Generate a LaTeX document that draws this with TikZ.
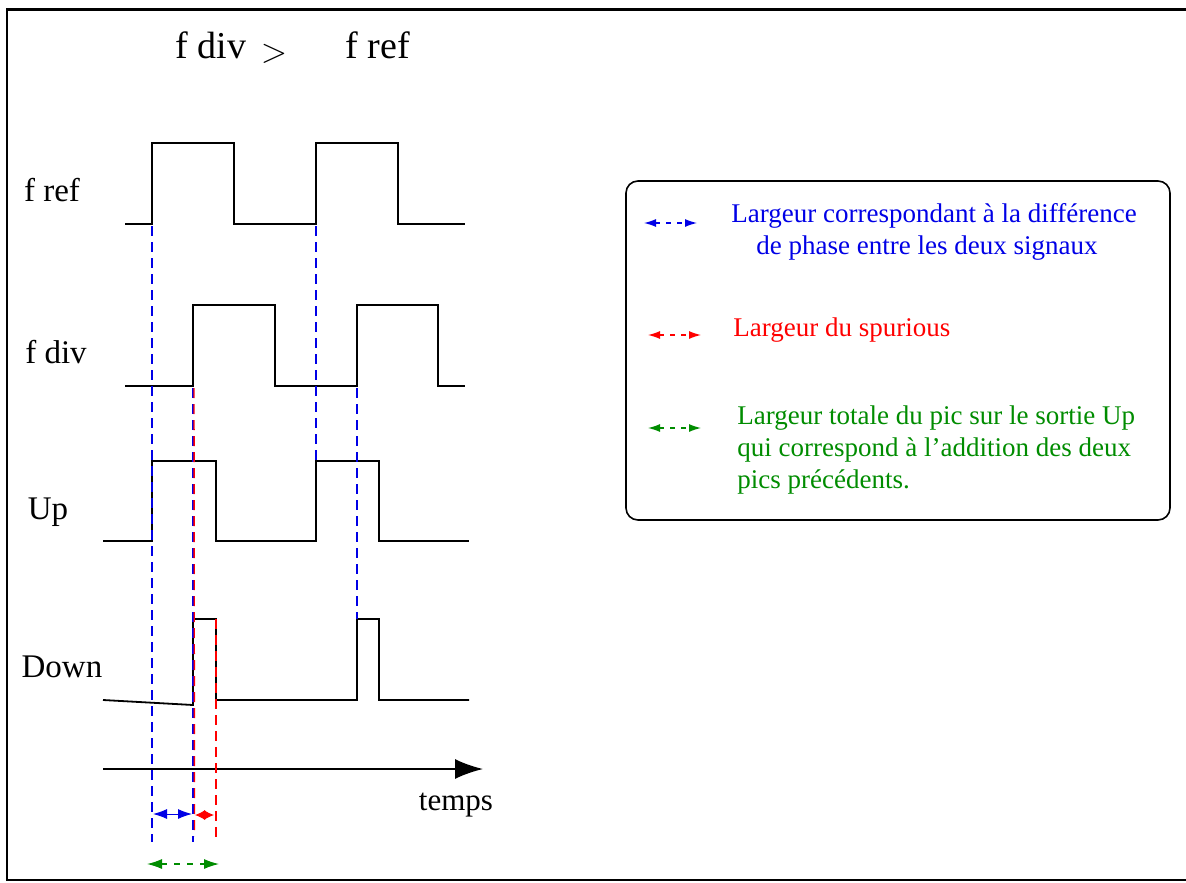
\documentclass[tikz,border=0pt]{standalone}
\usepackage{fontspec}
\setmainfont{Liberation Serif}
\usetikzlibrary{arrows.meta}
\definecolor{figblue}{RGB}{0,0,230}
\definecolor{figred}{RGB}{255,0,0}
\definecolor{figgreen}{RGB}{0,140,0}

\begin{document}
\begin{tikzpicture}[x=0.5pt,y=-0.5pt,
  sig/.style={line width=0.9pt, black},
  guide/.style={dash pattern=on 5pt off 3pt, line width=0.7pt},
  lab/.style={font=\fontsize{16.5}{19}\selectfont, inner sep=0pt},
  legtxt/.style={font=\fontsize{13.5}{16}\selectfont, inner sep=0pt, anchor=west},
  legarrow/.style={{Latex[length=6pt,width=4pt]}-{Latex[length=6pt,width=4pt]}, dash pattern=on 2.5pt off 3pt, line width=0.6pt}]
\useasboundingbox (0,0) rectangle (1186,882);
\draw[line width=1.4pt] (1200,9.5) -- (7,9.5) -- (7,880) -- (1200,880);

% titre
\node[lab, font=\fontsize{19}{22}\selectfont] (tdiv) at (211,45) {f div};
\node[lab, font=\fontsize{19}{22}\selectfont] (tgt) at (274,54) {$>$};
\node[lab, font=\fontsize{19}{22}\selectfont] (tref) at (378,45) {f ref};

% noms des signaux
\node[lab] (lref) at (52,190) {f ref};
\node[lab] (ldiv) at (56,352) {f div};
\node[lab] (lup) at (48,512) {Up};
\node[lab] (ldown) at (62,667) {Down};

% signaux
\draw[sig] (125,224) -- (152,224) -- (152,143) -- (234,143) -- (234,224) -- (316,224)
  -- (316,143) -- (398,143) -- (398,224) -- (465,224);
\draw[sig] (125,386) -- (193,386) -- (193,305) -- (275,305) -- (275,386) -- (357,386)
  -- (357,305) -- (438,305) -- (438,386) -- (465,386);
\draw[sig] (103,541) -- (152,541) -- (152,461) -- (216,461) -- (216,541) -- (316,541)
  -- (316,461) -- (379,461) -- (379,541) -- (469,541);
\draw[sig] (103,700) -- (193,705) -- (193,619) -- (216,619) -- (216,700) -- (357,700)
  -- (357,619) -- (379,619) -- (379,700) -- (469,700);

% axe du temps
\draw[sig, -{Latex[length=14pt,width=10pt]}] (103,769) -- (483,769);
\node[lab, font=\fontsize{15.5}{18}\selectfont] (ltemps) at (456,805) {temps};

% reperes
\draw[guide, figblue] (152,226) -- (152,842);
\draw[guide, figblue] (193,388) -- (193,842);
\draw[guide, figblue] (316,226) -- (316,461);
\draw[guide, figblue] (357,388) -- (357,619);
\draw[guide, figred] (194,388) -- (194.5,836);
\draw[guide, figred] (216,619) -- (216,842);

% largeurs
\draw[figblue, line width=0.5pt, {Latex[length=7pt,width=5pt]}-{Latex[length=7pt,width=5pt]}] (153,814) -- (192,814);
\draw[figred, line width=0.5pt, {Latex[length=5pt,width=5pt]}-{Latex[length=5pt,width=5pt]}] (195,815) -- (214,815);
\draw[figgreen, line width=0.6pt, dash pattern=on 3pt off 3.5pt, {Latex[length=7.5pt,width=5pt]}-{Latex[length=7.5pt,width=5pt]}] (147,864) -- (219,864);

% legende
\draw[line width=0.8pt, rounded corners=6pt] (626,181) rectangle (1170,520);
\draw[legarrow, figblue] (644,223) -- (697,223);
\draw[legarrow, figred] (648,335) -- (701,335);
\draw[legarrow, figgreen] (648,428) -- (701,428);
\node[legtxt, figblue] (tphase1) at (731,216) {Largeur correspondant à la différence};
\node[legtxt, figblue] (tphase2) at (756,248) {de phase entre les deux signaux};
\node[legtxt, figred] (tspur) at (733,330) {Largeur du spurious};
\node[legtxt, figgreen, align=left] (ttot) at (737,450)
  {Largeur totale du pic sur le sortie Up\\qui correspond à l’addition des deux\\pics précédents.};
\end{tikzpicture}
\end{document}
